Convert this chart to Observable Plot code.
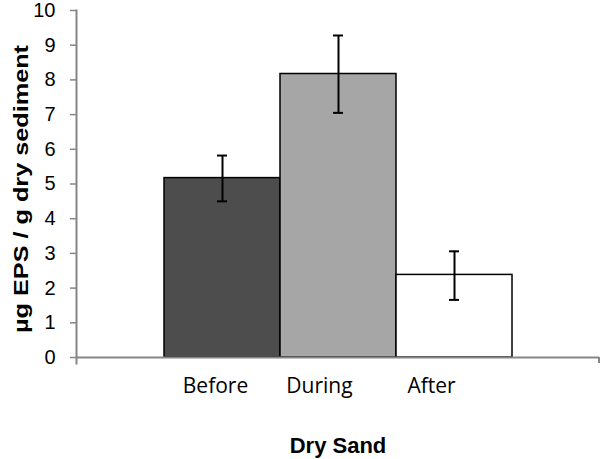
<!DOCTYPE html>
<html>
<head>
<meta charset="utf-8">
<script src="https://cdn.jsdelivr.net/npm/d3@7"></script>
<script src="https://cdn.jsdelivr.net/npm/@observablehq/plot@0.6"></script>
<style>
  html, body { margin: 0; padding: 0; background: #fff; }
  #chart svg { display: block; }
</style>
</head>
<body>
<div id="chart"></div>
<script>
// ---- data ----
const categories = ["Before", "During", "After"];
const means = [5.17, 8.17, 2.38];
const errLow = [4.5, 7.05, 1.66];
const errHigh = [5.82, 9.28, 3.06];
const yTicks = [0, 1, 2, 3, 4, 5, 6, 7, 8, 9, 10];
const yLabel = "µg EPS / g dry sediment";
const xTitle = "Dry Sand";
const fills = ["#4d4d4d", "#a6a6a6", "#ffffff"];

// ---- style ----
const labelShift = [-7, -19, -23];
const axisGray = "#868686";

const data = categories.map((c, i) => ({cat: c, v: means[i], lo: errLow[i], hi: errHigh[i]}));

const plot = Plot.plot({
  width: 600,
  height: 459,
  marginTop: 10,
  marginLeft: 76,
  marginRight: 1,
  marginBottom: 102,
  style: {fontFamily: "'Liberation Sans', Arial, sans-serif", background: "#fff"},
  x: {domain: categories, paddingInner: 0, paddingOuter: 0.748, axis: null},
  y: {domain: [0, 10], ticks: yTicks, axis: null},
  color: {domain: categories, range: fills},
  marks: [
    Plot.barY(data, {x: "cat", y: "v", fill: "cat", stroke: "#000", strokeWidth: 1.5}),
    Plot.ruleX(data, {x: "cat", y1: "lo", y2: "hi", stroke: "#000", strokeWidth: 2}),
    Plot.tickY(data, {x: "cat", y: "lo", stroke: "#000", strokeWidth: 2, inset: 53}),
    Plot.tickY(data, {x: "cat", y: "hi", stroke: "#000", strokeWidth: 2, inset: 53}),
    Plot.ruleY([0], {stroke: axisGray, strokeWidth: 2}),
    Plot.frame({anchor: "left", stroke: axisGray, strokeWidth: 2, insetBottom: -6}),
    Plot.axisY({ticks: yTicks, tickSize: 6, tickPadding: 15, stroke: axisGray, strokeWidth: 1.5,
      fontSize: 20, fill: "#000", label: null, tickFormat: d3.format("d")}),
    ...categories.map((c, i) => Plot.axisX({ticks: [c], tickSize: 0, tickPadding: 21, dx: labelShift[i],
      fontSize: 21, fontFamily: "'Open Sans', sans-serif", fill: "#000", label: null})),
    Plot.text([xTitle], {frameAnchor: "bottom", dy: 88, text: d => d, fontSize: 22, fontWeight: "bold",
      lineAnchor: "middle", fill: "#000"}),
    Plot.text([yLabel], {frameAnchor: "left", dx: -55, dy: 5, rotate: -90, text: d => d, fontSize: 21,
      fontWeight: "bold", lineAnchor: "middle", textAnchor: "middle", fill: "#000", className: "ylab"})
  ]
});

// right-end category tick of the x axis, placed from the scales
const xs = plot.scale("x"), ys = plot.scale("y");
const xr = xs.range[1], y0 = ys.apply(0);
d3.select(plot).append("line")
  .attr("x1", xr).attr("x2", xr).attr("y1", y0).attr("y2", y0 + 6)
  .attr("stroke", axisGray).attr("stroke-width", 2);

// stretch rotated y label to reference length
d3.select(plot).selectAll("g.ylab text").attr("textLength", 288).attr("lengthAdjust", "spacingAndGlyphs");

document.getElementById("chart").appendChild(plot);
</script>
</body>
</html>
